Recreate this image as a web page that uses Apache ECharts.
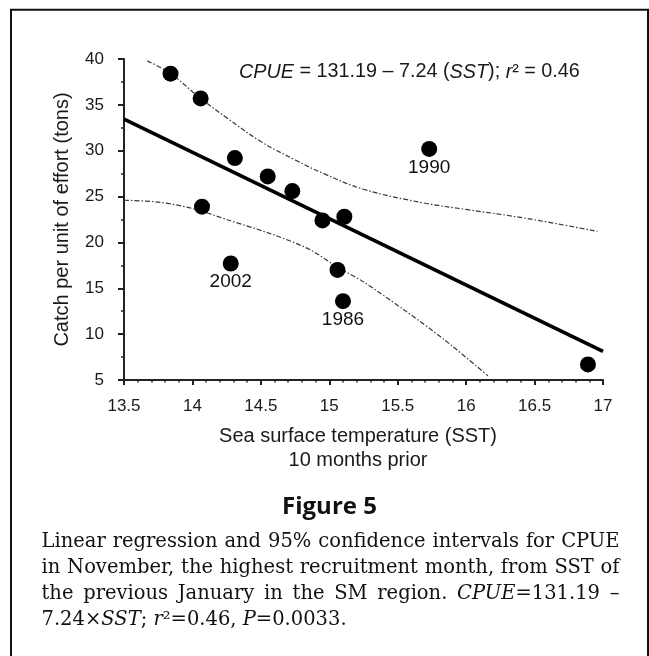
<!DOCTYPE html>
<html>
<head>
<meta charset="utf-8">
<script src="https://cdn.jsdelivr.net/npm/echarts@6/dist/echarts.min.js"></script>
<style>
html,body{margin:0;padding:0;background:#fff;}
#chart{width:649px;height:656px;}
</style>
</head>
<body>
<div id="chart"></div>
<script>
// Observed points (SST, CPUE)
var sstValues  = [13.84, 14.06, 14.31, 14.55, 14.73, 14.07, 14.95, 15.11, 14.28, 15.06, 15.10, 15.73, 16.89];
var cpueValues = [38.4, 35.7, 29.2, 27.2, 25.6, 23.9, 22.4, 22.8, 17.7, 17.0, 13.6, 30.2, 6.7];
var pointLabels = ['', '', '', '', '', '', '', '', '2002', '', '1986', '1990', ''];

// Regression line end points
var regX = [13.5, 17];
var regY = [33.45, 8.11];

// Upper 95% confidence band
var upperX = [13.67, 13.84, 14.06, 14.25, 14.5, 14.75, 14.96, 15.25, 15.69, 16.0, 16.45, 16.96];
var upperY = [39.8, 38.4, 35.7, 33.6, 31.0, 29.0, 27.5, 25.8, 24.3, 23.6, 22.6, 21.2];

// Lower 95% confidence band
var lowerX = [13.5, 13.75, 14.0, 14.25, 14.6, 14.86, 15.06, 15.25, 15.55, 15.84, 16.16];
var lowerY = [24.6, 24.4, 23.7, 22.5, 20.8, 19.2, 17.3, 15.7, 12.6, 9.4, 5.45];

// Axis ticks
var xMin = 13.5, xMax = 17, xStep = 0.5;
var yMin = 5, yMax = 40, yStep = 5;

var xAxisTitle = 'Sea surface temperature (SST)\n10 months prior';
var yAxisTitle = 'Catch per unit of effort (tons)';
var equationText = '{i|CPUE} = 131.19 \u2013 7.24 ({i|SST}); {i|r}\u00b2 = 0.46';
var figureTitle = 'Figure 5';
var captionLines = [
  'Linear regression and 95% confidence intervals for CPUE',
  'in November, the highest recruitment month, from SST of',
  'the previous January in the SM region. {i|CPUE}=131.19 \u2013',
  '7.24\u00d7{i|SST}; {i|r}\u00b2=0.46, {i|P}=0.0033.'
];

function zip(a, b) { return a.map(function (v, i) { return [v, b[i]]; }); }

var SANS = '"Liberation Sans", Arial, sans-serif';
var SERIF_NAME = 'DejaVu Serif';
var SERIF = '"DejaVu Serif", serif';
var INK = '#1a1a1a';
var CAP_SIZE = 19.5;

var scatterData = sstValues.map(function (x, i) {
  return { value: [x, cpueValues[i]], label: { show: pointLabels[i] !== '', formatter: pointLabels[i] } };
});

var bandStyle = { color: '#3a3a3a', width: 1.2, type: [5, 2, 1.5, 2] };

var graphics = [
  { type: 'rect', shape: { x: 11, y: 9.7, width: 637, height: 700 }, style: { fill: 'none', stroke: '#111', lineWidth: 2 }, silent: true },
  { type: 'text', x: 239, y: 72, style: {
      text: equationText, fontSize: 19.8, fontFamily: SANS, fill: INK, textVerticalAlign: 'middle',
      rich: { i: { fontStyle: 'italic', fontSize: 19.8, fontFamily: SANS, fill: INK } } } },
  { type: 'text', x: 329.5, y: 507.5, style: {
      text: figureTitle, fontSize: 24, fontWeight: 'bold', fontFamily: '"Open Sans", "Noto Sans", sans-serif',
      fill: '#111', textAlign: 'center', textVerticalAlign: 'middle' } }
];

// Justified caption: measure words and spread them over the text block width
var measureCtx = document.createElement('canvas').getContext('2d');
function segWidth(t, italic) {
  measureCtx.font = (italic ? 'italic ' : '') + CAP_SIZE + 'px "' + SERIF_NAME + '"';
  return measureCtx.measureText(t).width;
}
function wordWidth(w) {
  var total = 0, last = 0, re = /\{i\|([^}]*)\}/g, m;
  while ((m = re.exec(w)) !== null) {
    total += segWidth(w.slice(last, m.index), false) + segWidth(m[1], true);
    last = re.lastIndex;
  }
  return total + segWidth(w.slice(last), false);
}
var capLeft = 41.5, capRight = 619.5;
var captionBaseY = [541.5, 567.8, 594.1, 620.4];
captionLines.forEach(function (line, li) {
  var words = line.split(' ');
  var widths = words.map(wordWidth);
  var sum = widths.reduce(function (a, b) { return a + b; }, 0);
  var isLast = li === captionLines.length - 1;
  var gap = isLast ? segWidth(' ', false) : (capRight - capLeft - sum) / (words.length - 1);
  var x = capLeft;
  words.forEach(function (w, wi) {
    graphics.push({ type: 'text', x: x, y: captionBaseY[li], style: {
      text: w, fontSize: CAP_SIZE, fontFamily: SERIF, fill: '#111', textVerticalAlign: 'middle',
      rich: { i: { fontStyle: 'italic', fontSize: CAP_SIZE, fontFamily: SERIF, fill: '#111' } } } });
    x += widths[wi] + gap;
  });
});

var option = {
  animation: false,
  backgroundColor: '#fff',
  grid: { left: 124, right: 46, top: 59, bottom: 276, containLabel: false },
  xAxis: {
    type: 'value', min: xMin, max: xMax, interval: xStep,
    name: xAxisTitle, nameLocation: 'middle', nameGap: 44,
    nameTextStyle: { fontSize: 20, fontFamily: SANS, color: INK, lineHeight: 24, padding: [0, 11, 0, 0] },
    axisLine: { lineStyle: { color: '#222', width: 2 } },
    axisTick: { show: true, inside: false, length: 5, lineStyle: { color: '#222', width: 2 } },
    minorTick: { show: true, splitNumber: 5, length: 2.5, lineStyle: { color: '#222', width: 1.5 } },
    axisLabel: { fontSize: 17, fontFamily: SANS, color: INK, margin: 18,
      formatter: function (v) { return String(Math.round(v * 10) / 10); } },
    splitLine: { show: false }, minorSplitLine: { show: false }
  },
  yAxis: {
    type: 'value', min: yMin, max: yMax, interval: yStep,
    name: yAxisTitle, nameLocation: 'middle', nameGap: 52,
    nameTextStyle: { fontSize: 20, fontFamily: SANS, color: INK },
    axisLine: { lineStyle: { color: '#222', width: 2 } },
    axisTick: { show: true, inside: false, length: 6, lineStyle: { color: '#222', width: 2 } },
    minorTick: { show: true, splitNumber: 2, length: 3, lineStyle: { color: '#222', width: 1.5 } },
    axisLabel: { fontSize: 17, fontFamily: SANS, color: INK, margin: 20 },
    splitLine: { show: false }, minorSplitLine: { show: false }
  },
  series: [
    { type: 'line', data: zip(upperX, upperY), smooth: 0.4, symbol: 'none', lineStyle: bandStyle, z: 2, silent: true },
    { type: 'line', data: zip(lowerX, lowerY), smooth: 0.3, symbol: 'none', lineStyle: bandStyle, z: 2, silent: true },
    { type: 'line', data: zip(regX, regY), symbol: 'none', lineStyle: { color: '#000', width: 3.6 }, z: 3, silent: true },
    { type: 'scatter', data: scatterData, symbol: 'circle', symbolSize: 16,
      itemStyle: { color: '#000', opacity: 1 }, z: 4,
      label: { position: 'bottom', distance: 1, fontSize: 19, fontFamily: SANS, color: '#111' } }
  ],
  graphic: graphics
};

var chart = echarts.init(document.getElementById('chart'), null, { renderer: 'canvas' });
chart.setOption(option);
</script>
</body>
</html>
